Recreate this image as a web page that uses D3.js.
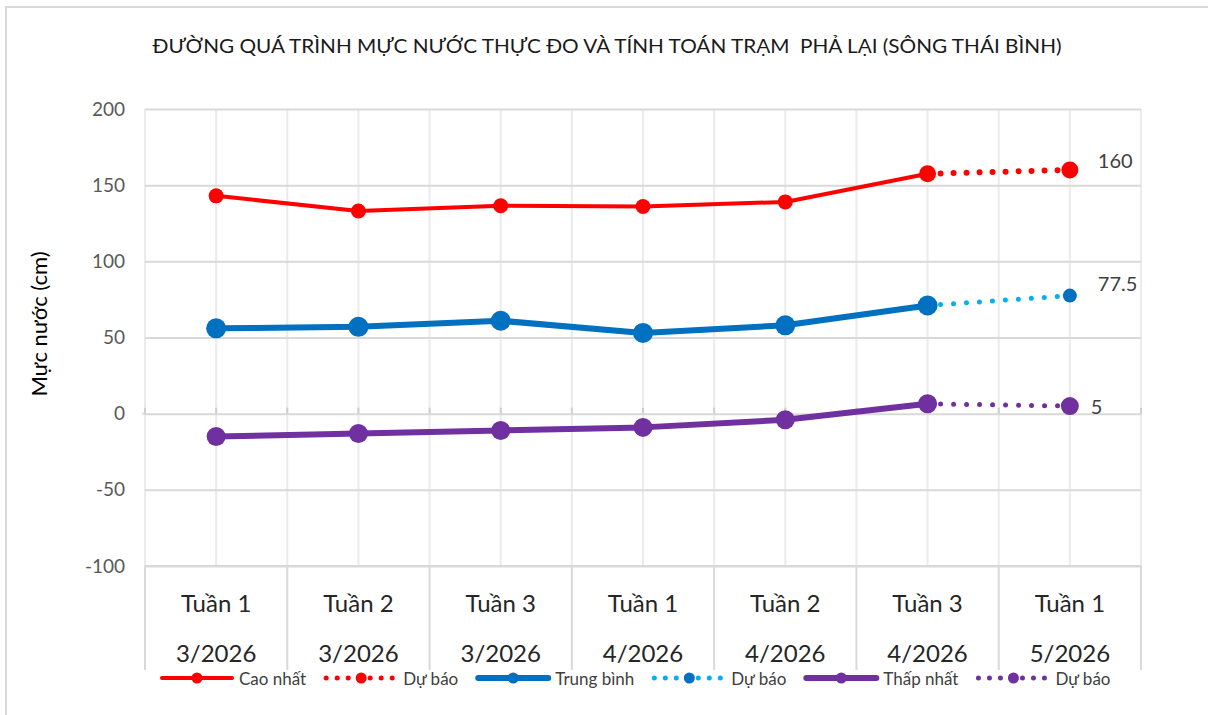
<!DOCTYPE html>
<html><head><meta charset="utf-8">
<script src="https://cdn.jsdelivr.net/npm/d3@7"></script>
<style>
body{margin:0;background:#fff;}
svg{display:block;font-family:Lato,"Open Sans",sans-serif;}
</style>
</head><body>
<svg id="chart" width="1208" height="715"></svg>
<script>
const chartTitle = "ĐƯỜNG QUÁ TRÌNH MỰC NƯỚC THỰC ĐO VÀ TÍNH TOÁN TRẠM  PHẢ LẠI (SÔNG THÁI BÌNH)";
const yTitle = "Mực nước (cm)";
const weeks = ["Tuần 1","Tuần 2","Tuần 3","Tuần 1","Tuần 2","Tuần 3","Tuần 1"];
const months = ["3/2026","3/2026","3/2026","4/2026","4/2026","4/2026","5/2026"];
const yTicks = [-100,-50,0,50,100,150,200];

const caoNhat        = [143,133,136.5,136,139,157.5,null];
const caoNhatDuBao   = [null,null,null,null,null,157.5,160];
const trungBinh      = [56,57,61,53,58,71,null];
const trungBinhDuBao = [null,null,null,null,null,71,77.5];
const thapNhat       = [-15,-13,-11,-9,-4,6.5,null];
const thapNhatDuBao  = [null,null,null,null,null,6.5,5];

const legendNames = ["Cao nhất","Dự báo","Trung bình","Dự báo","Thấp nhất","Dự báo"];

const series = [
  {name:legendNames[0], values:caoNhat, color:"#FF0000", width:4, dotted:false, r:7.5, mColor:"#FF0000"},
  {name:legendNames[1], values:caoNhatDuBao, color:"#FF0000", width:6, dotted:true, r:8.5, mColor:"#FF0000", label:true},
  {name:legendNames[2], values:trungBinh, color:"#0070C0", width:6, dotted:false, r:10, mColor:"#0070C0"},
  {name:legendNames[3], values:trungBinhDuBao, color:"#00B0F0", width:5, dotted:true, r:7, mColor:"#0070C0", label:true},
  {name:legendNames[4], values:thapNhat, color:"#7030A0", width:6, dotted:false, r:9.5, mColor:"#7030A0"},
  {name:legendNames[5], values:thapNhatDuBao, color:"#7030A0", width:5, dotted:true, r:9, mColor:"#7030A0", label:true}
];

const svg = d3.select("#chart");
const plot = {left:145, right:1141, top:109, bottom:566};

// chart border
svg.append("rect").attr("x",6).attr("y",7).attr("width",1215).attr("height",720)
  .attr("fill","#fff").attr("stroke","#d9d9d9").attr("stroke-width",2);

const x = d3.scaleBand().domain(d3.range(weeks.length)).range([plot.left, plot.right]).padding(0);
const bw = x.bandwidth();
const cx = i => x(i) + bw/2;
const y = d3.scaleLinear().domain([-100,200]).range([plot.bottom, plot.top]);

// vertical gridlines (centers and boundaries)
const vlines = [];
d3.range(weeks.length).forEach(i => { vlines.push(x(i)); vlines.push(cx(i)); });
vlines.push(plot.right);
svg.append("g").selectAll("line").data(vlines).join("line")
  .attr("x1",d=>d).attr("x2",d=>d).attr("y1",plot.top).attr("y2",plot.bottom)
  .attr("stroke","#ebebeb").attr("stroke-width",2);

// horizontal gridlines + y axis labels
const yAxis = d3.axisLeft(y).tickValues(yTicks).tickFormat(d=>String(d))
  .tickSize(-(plot.right-plot.left)).tickPadding(20);
const gy = svg.append("g").attr("transform",`translate(${plot.left},0)`).call(yAxis);
gy.select(".domain").remove();
gy.selectAll(".tick line").attr("stroke","#d9d9d9").attr("stroke-width",2);
gy.selectAll(".tick text").attr("fill","#595959").attr("font-size",19).attr("font-family","Lato");

// zero line small extension and ticks
svg.append("line").attr("x1",plot.left-3).attr("x2",plot.left).attr("y1",y(0)).attr("y2",y(0))
  .attr("stroke","#d9d9d9").attr("stroke-width",2);
svg.append("g").selectAll("line").data(vlines).join("line")
  .attr("x1",d=>d).attr("x2",d=>d).attr("y1",y(0)).attr("y2",y(0)-6)
  .attr("stroke","#cfcfcf").attr("stroke-width",2);

// category area separators
const seps = d3.range(weeks.length).map(i=>x(i)).concat([plot.right]);
svg.append("g").selectAll("line").data(seps).join("line")
  .attr("x1",d=>d).attr("x2",d=>d).attr("y1",plot.bottom).attr("y2",670)
  .attr("stroke","#d9d9d9").attr("stroke-width",2);
svg.append("line").attr("x1",plot.left).attr("x2",plot.right).attr("y1",plot.bottom).attr("y2",plot.bottom)
  .attr("stroke","#d9d9d9").attr("stroke-width",2);

// category labels
const gx = svg.append("g");
gx.selectAll("text.w").data(weeks).join("text").attr("class","w")
  .attr("x",(d,i)=>cx(i)).attr("y",602).attr("text-anchor","middle").attr("dominant-baseline","central")
  .attr("font-size",24).attr("fill","#262626").text(d=>d);
gx.selectAll("text.m").data(months).join("text").attr("class","m")
  .attr("x",(d,i)=>cx(i)).attr("y",652).attr("text-anchor","middle").attr("dominant-baseline","central")
  .attr("font-size",24).attr("fill","#262626").text(d=>d);

// title
svg.append("text").attr("x",607).attr("y",45).attr("text-anchor","middle").attr("dominant-baseline","central")
  .style("white-space","pre")
  .attr("font-size",19).attr("fill","#1a1a1a").attr("textLength",909).attr("lengthAdjust","spacingAndGlyphs")
  .text(chartTitle);

// y axis title
svg.append("text").attr("transform","translate(38,324) rotate(-90)").attr("text-anchor","middle")
  .attr("dominant-baseline","central").attr("font-size",22).attr("fill","#000").text(yTitle);

// series
const line = d3.line().defined(d=>d.v!=null).x(d=>cx(d.i)).y(d=>y(d.v));
series.forEach(s => {
  const pts = s.values.map((v,i)=>({v,i}));
  const g = svg.append("g");
  g.append("path").datum(pts).attr("d",line).attr("fill","none")
    .attr("stroke",s.color).attr("stroke-width",s.width)
    .attr("stroke-linecap","round")
    .attr("stroke-linejoin","round")
    .attr("stroke-dasharray", s.dotted ? "0 13" : null);
  g.selectAll("circle").data(pts.filter(d=>d.v!=null)).join("circle")
    .attr("cx",d=>cx(d.i)).attr("cy",d=>y(d.v)).attr("r",s.r).attr("fill",s.mColor);
  if (s.label) {
    const last = pts.filter(d=>d.v!=null).pop();
    g.append("text").attr("x",cx(last.i)+ (String(last.v).length>1 ? 28 : 21)).attr("y",y(last.v)-(last.v>100?10:last.v>50?13:0))
      .attr("dominant-baseline","central").attr("font-size",20).attr("fill","#404040").text(last.v);
  }
});

// legend
const lg = svg.append("g");
let lx = 162;
const ly = 678;
series.forEach(s => {
  const g = lg.append("g");
  g.append("line").attr("x1",lx).attr("x2",lx+70).attr("y1",ly).attr("y2",ly)
    .attr("stroke",s.color).attr("stroke-width",s.dotted?5:s.width)
    .attr("stroke-linecap","round").attr("stroke-dasharray",s.dotted?"0 11":null);
  g.append("circle").attr("cx",lx+35).attr("cy",ly).attr("r",5.5).attr("fill",s.mColor);
  const t = g.append("text").attr("x",lx+77).attr("y",ly).attr("dominant-baseline","central")
    .attr("font-size",17).attr("fill","#404040").text(s.name);
  lx += 77 + t.node().getComputedTextLength() + 20;
});
</script>
</body></html>
